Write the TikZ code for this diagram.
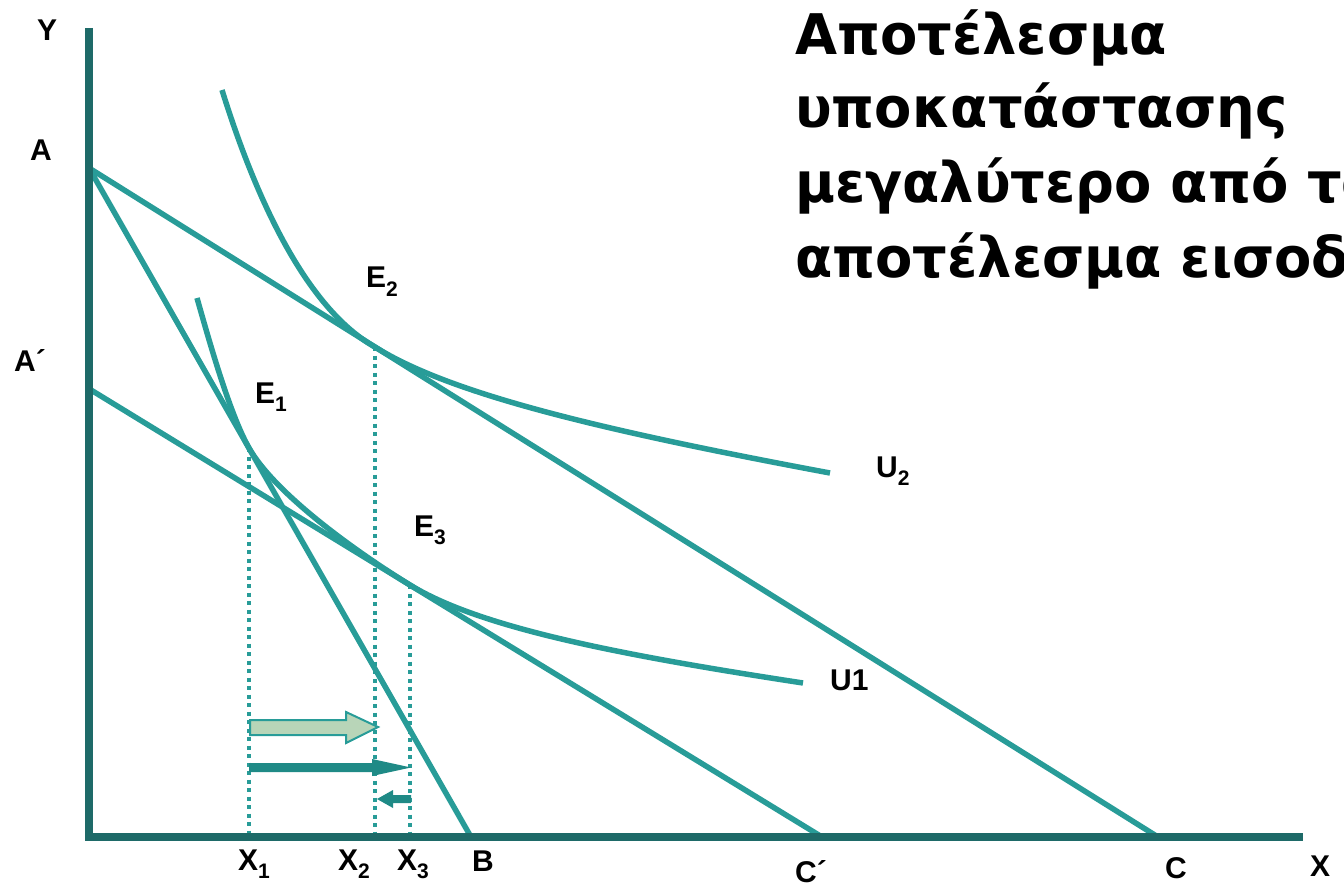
\documentclass[tikz,border=0pt]{standalone}
\usepackage{fontspec}
\setmainfont{Liberation Sans}
\newfontfamily\titlefont{DejaVu Sans}[FakeStretch=0.97]
\definecolor{axisc}{HTML}{1E6A68}
\definecolor{curvec}{HTML}{289C98}
\definecolor{lightg}{HTML}{B8D5B8}
\definecolor{darkarr}{HTML}{1F8A86}
\tikzset{
  axisline/.style={draw=axisc, line width=7.5pt},
  curve/.style={draw=curvec, line width=5.5pt},
  dotline/.style={draw=curvec, line width=3.8pt, dash pattern=on 4pt off 4.5pt},
  lbl/.style={font=\bfseries\fontsize{30}{30}\selectfont, inner sep=0pt, anchor=base west},
  ttl/.style={font=\titlefont\bfseries\fontsize{56}{56}\selectfont, inner sep=0pt, anchor=base west},
}
\newcommand{\sbs}[1]{\raisebox{-0.28em}{\fontsize{21}{21}\selectfont #1}}
\begin{document}
\begin{tikzpicture}[x=1pt,y=-1pt]
\useasboundingbox (0,0) rectangle (1344,893);
% key points
\coordinate (O) at (89,837);
\coordinate (Ytop) at (89,28);
\coordinate (Xend) at (1303,837);
\coordinate (A) at (89,168);
\coordinate (Ap) at (91,390);
\coordinate (B) at (471,837);
\coordinate (Cp) at (822,837);
\coordinate (C) at (1158,837);
\coordinate (E1) at (249,448);
\coordinate (E2) at (375,347);
\coordinate (E3) at (410,585);
\coordinate (X1) at (249,837);
\coordinate (X2) at (375,837);
\coordinate (X3) at (410,837);
% dotted drop lines
\draw[dotline] (E1) -- (X1);
\draw[dotline] (E2) -- (X2);
\draw[dotline] (E3) -- (X3);
% budget lines
\draw[curve] (A) -- (B);
\draw[curve] (A) -- (C);
\draw[curve] (Ap) -- (Cp);
% indifference curves
\draw[curve] (222,90) .. controls (250,180) and (300,305) .. (E2)
  .. controls (450,394) and (600,430) .. (830,473);
\draw[curve] (197,298) .. controls (207,333) and (229,413) .. (E1)
  .. controls (274,492) and (350,548) .. (E3)
  .. controls (480,628) and (620,655) .. (803,683);
% axes
\draw[axisline] (Ytop) -- (O) -- (Xend);
% arrows
\draw[draw=curvec, line width=2pt, fill=lightg]
  (250,720) -- (346,720) -- (346,712) -- (378,727) -- (346,743) -- (346,735) -- (250,735) -- cycle;
\fill[darkarr] (249,763) -- (372,763) -- (372,759) -- (411,767.5) -- (372,776) -- (372,772) -- (249,772) -- cycle;
\fill[darkarr] (411,795) -- (393,795) -- (393,790) -- (377,799) -- (393,808) -- (393,803) -- (411,803) -- cycle;
% labels
\node[lbl] (lY) at (37,41) {Y};
\node[lbl] (lA) at (30,161) {A};
\node[lbl] (lAp) at (14,371) {A´};
\node[lbl] (lE1) at (255,403) {E\sbs{1}};
\node[lbl] (lE2) at (366,288) {E\sbs{2}};
\node[lbl] (lE3) at (414,536) {E\sbs{3}};
\node[lbl] (lU2) at (876,477) {U\sbs{2}};
\node[lbl] (lU1) at (830,690) {U1};
\node[lbl] (lX1) at (238,870) {X\sbs{1}};
\node[lbl] (lX2) at (338,870) {X\sbs{2}};
\node[lbl] (lX3) at (397,870) {X\sbs{3}};
\node[lbl] (lB) at (472,871) {B};
\node[lbl] (lCp) at (795,882) {C´};
\node[lbl] (lC) at (1165,878) {C};
\node[lbl] (lX) at (1310,876) {X};
% title
\node[ttl] (t1) at (795,55) {Αποτέλεσμα};
\node[ttl] (t2) at (795,128) {υποκατάστασης};
\node[ttl] (t3) at (795,203) {μεγαλύτερο από το};
\node[ttl] (t4) at (795,278) {αποτέλεσμα εισοδήματος};
\end{tikzpicture}
\end{document}
